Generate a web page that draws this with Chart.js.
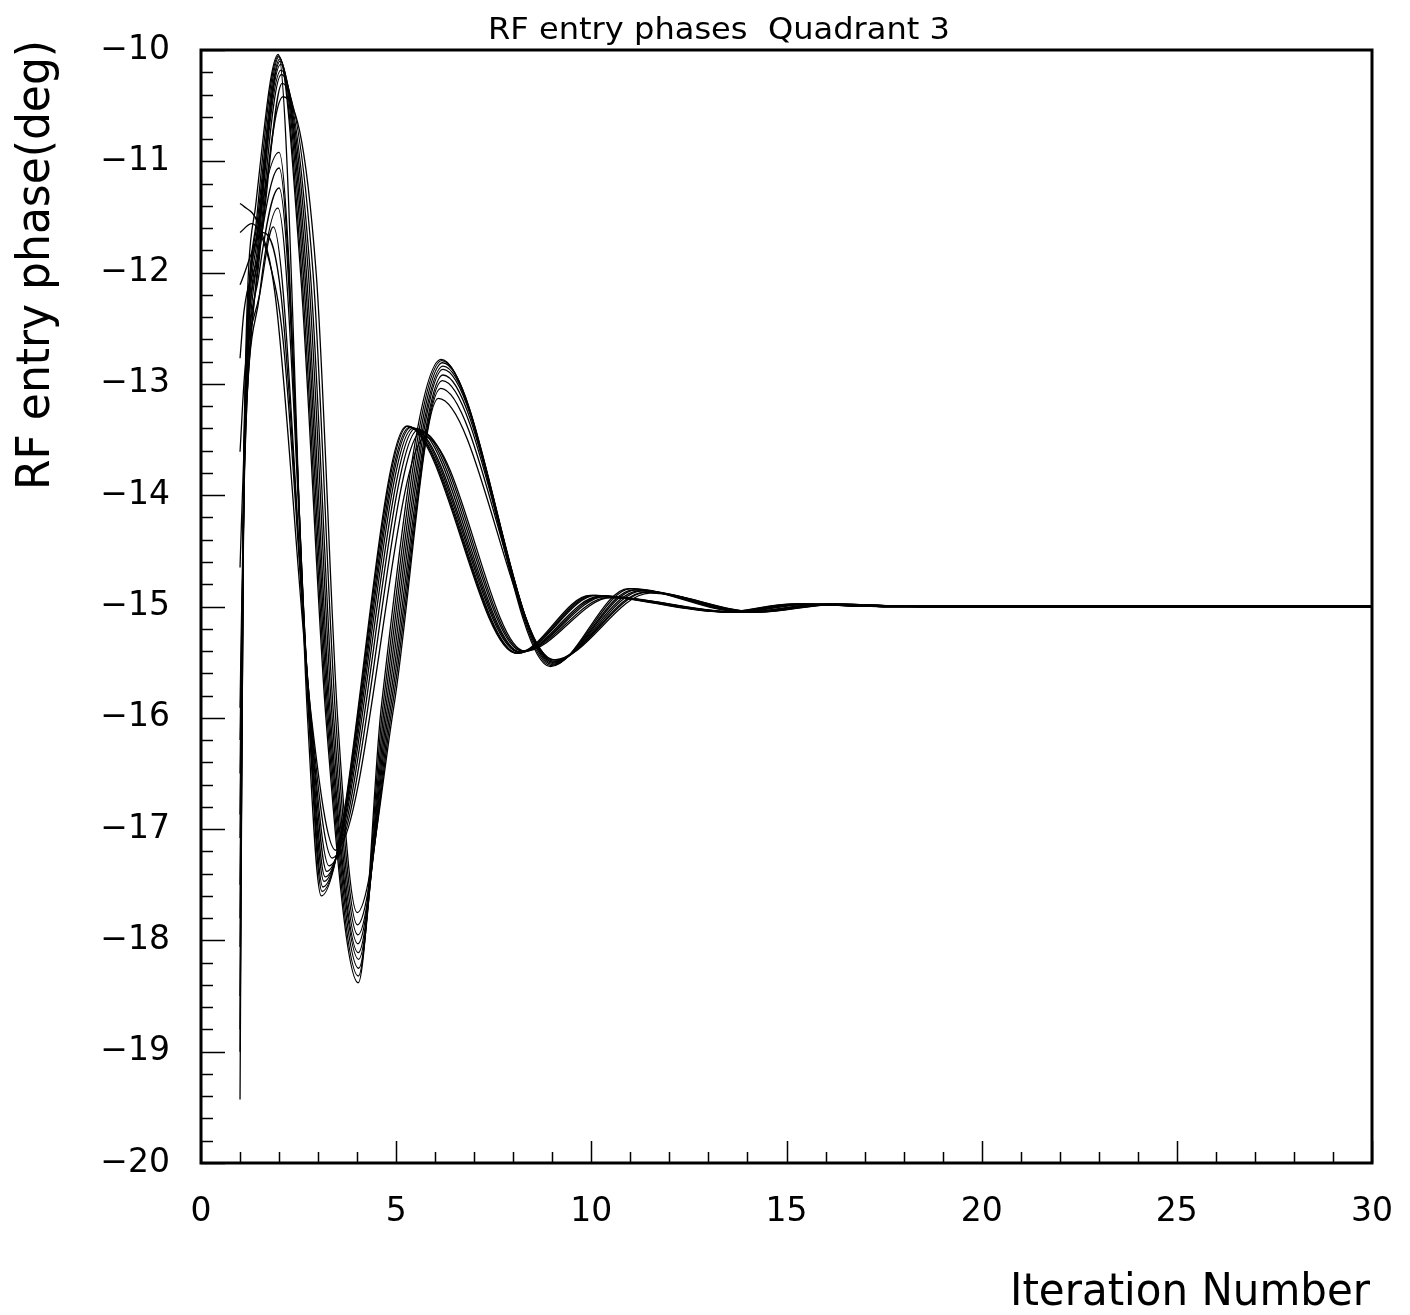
<!DOCTYPE html>
<html><head><meta charset="utf-8">
<script src="https://cdn.jsdelivr.net/npm/chart.js@4/dist/chart.umd.min.js"></script>
<style>html,body{margin:0;padding:0;background:#fff}#wrap{width:1410px;height:1315px}</style>
</head><body><div id="wrap"><canvas id="c" width="1410" height="1315"></canvas></div>
<script>
// ---- data: [iteration, phase(deg)] points ----
const chartTitle = 'RF entry phases  Quadrant 3';
const xTitle = 'Iteration Number';
const yTitle = 'RF entry phase(deg)';
const xTickValues = [0, 5, 10, 15, 20, 25, 30];
const yTickValues = [-20, -19, -18, -17, -16, -15, -14, -13, -12, -11, -10];

// family A (first trough near iteration 3.1-3.5)
const curveA0 = [[1,-19.43],[1.1,-13.55],[1.4,-11.4],[1.98,-10.04],[2.73,-16.0],[3.08,-17.6],[5.27,-13.38],[8.08,-15.42],[9.97,-14.9],[13.4,-15.05],[15.1,-14.98],[17.5,-15.0],[30,-15.0]];
const curveA1 = [[1,-18.5],[1.1,-13.6],[1.42,-11.7],[2.0,-10.92],[2.76,-16.0],[3.1,-17.56],[5.3,-13.38],[8.1,-15.42],[10.02,-14.9],[13.45,-15.05],[15.15,-14.98],[17.5,-15.0],[30,-15.0]];
const curveA2 = [[1,-17.5],[1.1,-13.7],[1.45,-11.9],[2.0,-11.06],[2.77,-16.0],[3.12,-17.52],[5.34,-13.39],[8.12,-15.42],[10.07,-14.9],[13.5,-15.05],[15.2,-14.98],[17.5,-15.0],[30,-15.0]];
const curveA3 = [[1,-16.87],[1.1,-13.8],[1.47,-12.05],[2.0,-11.24],[2.78,-16.0],[3.15,-17.47],[5.38,-13.39],[8.15,-15.41],[10.12,-14.9],[13.55,-15.05],[15.25,-14.98],[17.5,-15.0],[30,-15.0]];
const curveA4 = [[1,-15.91],[1.1,-13.9],[1.5,-12.2],[1.97,-11.42],[2.79,-16.0],[3.18,-17.43],[5.43,-13.4],[8.18,-15.41],[10.2,-14.91],[13.6,-15.05],[15.3,-14.98],[17.5,-15.0],[30,-15.0]];
const curveA5 = [[1,-13.61],[1.12,-12.9],[1.5,-12.2],[1.85,-11.59],[2.8,-16.0],[3.22,-17.38],[5.5,-13.4],[8.2,-15.41],[10.27,-14.91],[13.65,-15.05],[15.35,-14.98],[17.5,-15.0],[30,-15.0]];
const curveA6 = [[1,-12.11],[1.6,-11.64],[2.05,-12.2],[2.81,-16.0],[3.28,-17.33],[5.57,-13.41],[8.23,-15.4],[10.35,-14.91],[13.7,-15.05],[15.4,-14.98],[17.5,-15.0],[30,-15.0]];
const curveA7 = [[1,-11.64],[1.3,-11.56],[1.75,-11.9],[2.1,-12.6],[2.82,-16.0],[3.36,-17.26],[5.65,-13.43],[8.26,-15.4],[10.42,-14.92],[13.75,-15.05],[15.45,-14.98],[17.5,-15.0],[30,-15.0]];
const curveA8 = [[1,-11.38],[1.08,-11.4],[1.45,-11.55],[1.9,-12.2],[2.83,-16.0],[3.45,-17.19],[5.75,-13.48],[8.3,-15.4],[10.5,-14.92],[13.8,-15.05],[15.5,-14.98],[17.5,-15.0],[30,-15.0]];

// family B (first trough near iteration 4)
const curveB0 = [[1,-18.06],[1.1,-13.7],[1.43,-11.5],[1.99,-10.05],[2.55,-12.0],[3.2,-16.0],[4.03,-18.38],[4.62,-15.9],[6.15,-12.78],[8.95,-15.54],[10.95,-14.84],[13.9,-15.05],[15.9,-14.98],[18.5,-15.0],[30,-15.0]];
const curveB1 = [[1,-19.0],[1.1,-13.75],[1.44,-11.55],[2.0,-10.06],[2.58,-12.0],[3.23,-16.0],[4.03,-18.32],[4.66,-15.9],[6.17,-12.79],[8.97,-15.53],[11.02,-14.84],[13.95,-15.05],[15.95,-14.98],[18.5,-15.0],[30,-15.0]];
const curveB2 = [[1,-18.8],[1.1,-13.8],[1.45,-11.6],[2.02,-10.08],[2.62,-12.0],[3.26,-16.0],[4.04,-18.25],[4.7,-15.9],[6.19,-12.81],[8.99,-15.52],[11.08,-14.85],[14.0,-15.05],[16.0,-14.98],[18.5,-15.0],[30,-15.0]];
const curveB3 = [[1,-17.8],[1.1,-13.85],[1.46,-11.65],[2.03,-10.1],[2.66,-12.0],[3.29,-16.0],[4.04,-18.17],[4.74,-15.9],[6.2,-12.84],[9.0,-15.51],[11.15,-14.85],[14.05,-15.05],[16.05,-14.98],[18.5,-15.0],[30,-15.0]];
const curveB4 = [[1,-17.08],[1.1,-13.9],[1.47,-11.7],[2.04,-10.13],[2.7,-12.0],[3.32,-16.0],[4.03,-18.11],[4.78,-15.9],[6.2,-12.87],[9.01,-15.5],[11.22,-14.86],[14.1,-15.05],[16.1,-14.98],[18.5,-15.0],[30,-15.0]];
const curveB5 = [[1,-16.5],[1.1,-13.95],[1.48,-11.75],[2.05,-10.18],[2.75,-12.0],[3.36,-16.0],[4.02,-18.03],[4.82,-15.9],[6.2,-12.92],[9.02,-15.5],[11.3,-14.86],[14.15,-15.05],[16.15,-14.98],[18.5,-15.0],[30,-15.0]];
const curveB6 = [[1,-14.65],[1.1,-13.6],[1.49,-11.8],[2.06,-10.22],[2.8,-12.0],[3.4,-16.0],[4.02,-17.95],[4.86,-15.9],[6.18,-12.97],[9.03,-15.49],[11.37,-14.87],[14.2,-15.05],[16.2,-14.98],[18.5,-15.0],[30,-15.0]];
const curveB7 = [[1,-12.77],[1.1,-12.35],[1.5,-11.8],[2.08,-10.3],[2.87,-12.0],[3.45,-16.0],[4.01,-17.86],[4.9,-15.9],[6.14,-13.04],[9.04,-15.48],[11.43,-14.87],[14.25,-15.05],[16.25,-14.98],[18.5,-15.0],[30,-15.0]];
const curveB8 = [[1,-16.2],[1.1,-14.0],[1.5,-11.85],[2.1,-10.42],[2.95,-12.0],[3.5,-16.0],[4.0,-17.75],[4.94,-15.9],[6.08,-13.13],[9.05,-15.48],[11.5,-14.88],[14.3,-15.05],[16.3,-14.98],[18.5,-15.0],[30,-15.0]];

const curves = [curveA0,curveA1,curveA2,curveA3,curveA4,curveA5,curveA6,curveA7,curveA8,
                curveB0,curveB1,curveB2,curveB3,curveB4,curveB5,curveB6,curveB7,curveB8];

// ---- drawing ----
const FONT = '"DejaVu Sans", "Liberation Sans", sans-serif';
const fmt = v => (v < 0 ? '\u2212' + Math.abs(v) : String(v));

function drawFitted(ctx, text, size, targetLen, ax, ay, align, rotate) {
  ctx.save();
  ctx.font = size + 'px ' + FONT;
  const w = ctx.measureText(text).width;
  ctx.translate(ax, ay);
  if (rotate) ctx.rotate(-Math.PI / 2);
  ctx.scale(targetLen / w, 1);
  ctx.textAlign = align;
  ctx.textBaseline = 'alphabetic';
  ctx.fillStyle = '#000';
  ctx.fillText(text, 0, 0);
  ctx.restore();
}

const framePlugin = {
  id: 'frame',
  afterDraw(chart) {
    const { ctx, chartArea: a, scales: { x, y } } = chart;
    ctx.save();
    ctx.strokeStyle = '#000';
    ctx.lineWidth = 1.5;
    ctx.beginPath();
    for (let i = 0; i <= 50; i++) {
      const v = y.min + i * 0.2;
      const py = Math.round(y.getPixelForValue(v)) + 0.5;
      const len = (i % 5 === 0) ? 24 : 12;
      ctx.moveTo(a.left, py); ctx.lineTo(a.left + len, py);
    }
    for (let i = 0; i <= 30; i++) {
      const px = Math.round(x.getPixelForValue(i)) + 0.5;
      const len = (i % 5 === 0) ? 22 : 11;
      ctx.moveTo(px, a.bottom); ctx.lineTo(px, a.bottom - len);
    }
    ctx.stroke();
    ctx.lineWidth = 3;
    ctx.strokeRect(a.left, a.top, a.right - a.left, a.bottom - a.top);
    ctx.restore();
    drawFitted(ctx, chartTitle, 30, 462, 719, 39, 'center', false);
    drawFitted(ctx, xTitle, 44, 360, 1370, 1305, 'right', false);
    drawFitted(ctx, yTitle, 46, 450, 49, 265, 'center', true);
  }
};

new Chart(document.getElementById('c'), {
  type: 'line',
  data: {
    datasets: curves.map((c, i) => ({
      label: 'run ' + (i + 1),
      data: c,
      borderColor: '#000',
      borderWidth: 1.3,
      pointRadius: 0,
      fill: false,
      cubicInterpolationMode: 'monotone'
    }))
  },
  options: {
    responsive: false,
    animation: false,
    devicePixelRatio: 1,
    layout: { padding: { left: 0, top: 50, right: 38, bottom: 0 } },
    plugins: { legend: { display: false }, tooltip: { enabled: false }, title: { display: false } },
    scales: {
      x: {
        type: 'linear', min: 0, max: 30,
        grid: { display: false, drawTicks: false }, border: { display: false },
        afterBuildTicks: s => { s.ticks = xTickValues.map(v => ({ value: v })); },
        ticks: { color: '#000', font: { family: FONT, size: 33 }, padding: 30, maxRotation: 0, autoSkip: false, callback: v => fmt(v) },
        afterFit: s => { s.height = 152; s.paddingLeft = 0; s.paddingRight = 0; }
      },
      y: {
        type: 'linear', min: -20, max: -10,
        grid: { display: false, drawTicks: false }, border: { display: false },
        afterBuildTicks: s => { s.ticks = yTickValues.map(v => ({ value: v })); },
        ticks: { color: '#000', font: { family: FONT, size: 33 }, padding: 31, autoSkip: false, callback: v => fmt(v) },
        afterFit: s => { s.width = 201; s.paddingTop = 0; s.paddingBottom = 0; }
      }
    }
  },
  plugins: [framePlugin]
});
</script></body></html>
